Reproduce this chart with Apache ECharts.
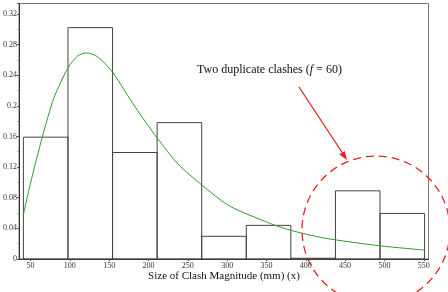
<!DOCTYPE html>
<html><head><meta charset="utf-8">
<script src="https://cdn.jsdelivr.net/npm/echarts@6/dist/echarts.min.js"></script>
<style>html,body{margin:0;padding:0;background:#fff;}#c{width:448px;height:292px;}</style>
</head><body><div id="c"></div>
<script>
// Histogram bin edges (mm) and relative frequencies
const binEdges = [41, 97.67, 154.33, 211, 267.67, 324.33, 381, 437.67, 494.33, 551];
const binValues = [0.159, 0.302, 0.139, 0.178, 0.0296, 0.0439, 0.001, 0.089, 0.0595];
// Fitted density curve
const curveX = [40.8, 50, 65, 80, 98, 110, 121, 132, 141, 155, 183, 211, 238, 268, 293, 310, 360, 382, 407, 433, 494, 551];
const curveY = [0.057, 0.099, 0.159, 0.211, 0.250, 0.265, 0.269, 0.266, 0.259, 0.243, 0.1985, 0.158, 0.1235, 0.0964, 0.076, 0.0655, 0.0443, 0.0372, 0.0308, 0.0257, 0.0172, 0.0117];
const xTicks = [50, 100, 150, 200, 250, 300, 350, 400, 450, 500, 550];
const xTitle = 'Size of Clash Magnitude (mm) (x)';
const noteText = 'Two duplicate clashes (';

const font = 'Liberation Serif';
const chart = echarts.init(document.getElementById('c'), null, {renderer: 'canvas'});
const barData = binValues.map((v, i) => [binEdges[i], binEdges[i + 1], v]);
const curveData = curveX.map((x, i) => [x, curveY[i]]);

chart.setOption({
  animation: false,
  grid: {left: 16.5, right: 19.5, top: 3.5, bottom: 33, show: true, borderColor: '#777', borderWidth: 1, backgroundColor: 'transparent'},
  xAxis: {
    type: 'value', min: 35.4, max: 556,
    splitLine: {show: false},
    axisLine: {onZero: false, lineStyle: {color: '#333', width: 1}},
    axisTick: {customValues: xTicks, length: 2, lineStyle: {color: '#555'}},
    axisLabel: {customValues: xTicks, fontFamily: font, fontSize: 8, color: '#333', margin: 3}
  },
  yAxis: {
    type: 'value', min: 0, max: 0.3335, interval: 0.04,
    splitLine: {show: false},
    axisLine: {show: true, lineStyle: {color: '#333', width: 1}},
    axisTick: {show: true, length: 2, lineStyle: {color: '#555'}},
    minorTick: {show: true, splitNumber: 2, length: 1.5, lineStyle: {color: '#888'}},
    axisLabel: {fontFamily: font, fontSize: 8, color: '#333', margin: 2,
      formatter: v => (Math.abs(v - 0.3335) < 1e-6 ? '' : String(+v.toFixed(2)))}
  },
  series: [
    {
      type: 'custom',
      data: barData,
      renderItem: (params, api) => {
        const p0 = api.coord([api.value(0), api.value(2)]);
        const p1 = api.coord([api.value(1), 0]);
        return {
          type: 'rect',
          shape: {x: p0[0], y: p0[1], width: p1[0] - p0[0], height: p1[1] - p0[1]},
          style: {fill: 'none', stroke: '#444', lineWidth: 1}
        };
      },
      z: 2
    },
    {
      type: 'line', data: curveData, smooth: 0.25, showSymbol: false,
      lineStyle: {color: '#2e9a2e', width: 1}, z: 3
    }
  ],
  graphic: [
    {type: 'text', left: 'center', style: {text: xTitle, font: '11px "Liberation Serif"', fill: '#111'}, x: 4, top: 271},
    {type: 'text', x: 197, y: 64, style: {
      rich: {n: {font: '12px "Liberation Serif"', fill: '#111'}, i: {font: 'italic 12px "Liberation Serif"', fill: '#111'}},
      text: '{n|' + noteText + '}{i|f}{n| = 60)}'
    }},
    {type: 'line', shape: {x1: 299, y1: 87, x2: 345.5, y2: 157.5}, style: {stroke: '#e52222', lineWidth: 1.3}},
    {type: 'polygon', shape: {points: [[347, 160], [339.3, 154.4], [344.7, 150.9]]}, style: {fill: '#e52222'}},
    {type: 'circle', shape: {cx: 376, cy: 230, r: 74}, style: {fill: 'none', stroke: '#e52222', lineWidth: 1.3, lineDash: [8, 5]}}
  ]
});
</script></body></html>
